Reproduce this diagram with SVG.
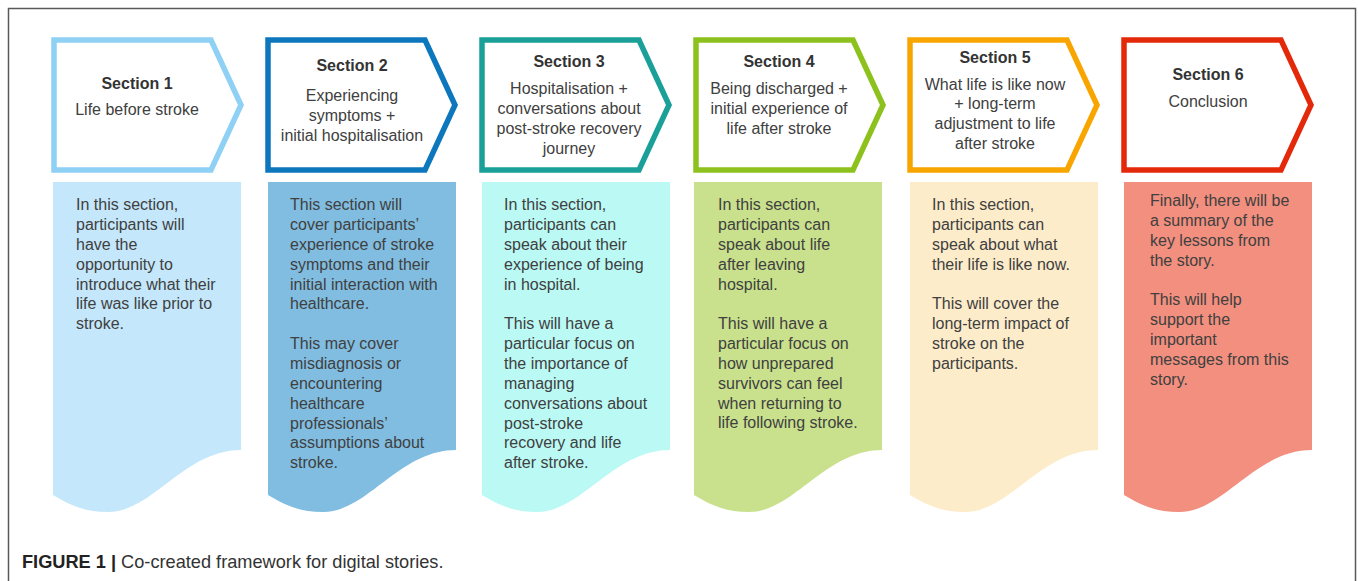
<svg xmlns="http://www.w3.org/2000/svg" width="1358" height="581" viewBox="0 0 1358 581">
<defs>
<style>
.hd{fill:#fff;stroke-width:5.5;stroke-linejoin:miter}
.t{font-family:"Liberation Sans",Arial,sans-serif;font-size:16px;fill:#404040}
.h{font-family:"Liberation Sans",Arial,sans-serif;font-size:16px;fill:#404040;text-anchor:middle}
.b{font-weight:bold;fill:#333}
.cap{font-family:"Liberation Sans",Arial,sans-serif;font-size:18.2px;fill:#333}
</style>
<path id="arrow" d="M3 40 H160 L190 105 L160 170 H3 Z"/>
<path id="body" d="M0 0 H188 V268 C131 268 100 330 55 330 C30 330 15 322 0 313 Z"/>
</defs>
<rect x="0" y="0" width="1358" height="581" fill="#fff"/>
<rect x="8.5" y="8.5" width="1347" height="600" fill="none" stroke="#595959" stroke-width="1.5"/>
<g id="connectors"></g>

<g id="section1">
<use href="#arrow" x="51" class="hd" stroke="#8ed1f5"/>
<use href="#body" x="53" y="182" fill="#c4e7fb"/>
<text class="h" x="137"><tspan class="b" x="137" y="89">Section 1</tspan><tspan x="137" y="115">Life before stroke</tspan></text>
<text class="t" x="76"><tspan x="76" y="210">In this section,</tspan><tspan x="76" y="230">participants will</tspan><tspan x="76" y="250">have the</tspan><tspan x="76" y="270">opportunity to</tspan><tspan x="76" y="290">introduce what their</tspan><tspan x="76" y="309">life was like prior to</tspan><tspan x="76" y="329">stroke.</tspan></text>
</g>

<g id="section2">
<use href="#arrow" x="265" class="hd" stroke="#0c77bd"/>
<use href="#body" x="268" y="182" fill="#80bde0"/>
<text class="h"><tspan class="b" x="352" y="71">Section 2</tspan><tspan x="352" y="101">Experiencing</tspan><tspan x="352" y="121">symptoms +</tspan><tspan x="352" y="141">initial hospitalisation</tspan></text>
<text class="t"><tspan x="290" y="210">This section will</tspan><tspan x="290" y="230">cover participants’</tspan><tspan x="290" y="250">experience of stroke</tspan><tspan x="290" y="270">symptoms and their</tspan><tspan x="290" y="290">initial interaction with</tspan><tspan x="290" y="309">healthcare.</tspan><tspan x="290" y="349">This may cover</tspan><tspan x="290" y="369">misdiagnosis or</tspan><tspan x="290" y="389">encountering</tspan><tspan x="290" y="409">healthcare</tspan><tspan x="290" y="429">professionals’</tspan><tspan x="290" y="448">assumptions about</tspan><tspan x="290" y="468">stroke.</tspan></text>
</g>

<g id="section3">
<use href="#arrow" x="479" class="hd" stroke="#1aa098"/>
<use href="#body" x="482" y="182" fill="#bbf9f4"/>
<text class="h"><tspan class="b" x="569" y="67">Section 3</tspan><tspan x="569" y="94">Hospitalisation +</tspan><tspan x="569" y="114">conversations about</tspan><tspan x="569" y="134">post-stroke recovery</tspan><tspan x="569" y="154">journey</tspan></text>
<text class="t"><tspan x="504" y="210">In this section,</tspan><tspan x="504" y="230">participants can</tspan><tspan x="504" y="250">speak about their</tspan><tspan x="504" y="270">experience of being</tspan><tspan x="504" y="290">in hospital.</tspan><tspan x="504" y="329">This will have a</tspan><tspan x="504" y="349">particular focus on</tspan><tspan x="504" y="369">the importance of</tspan><tspan x="504" y="389">managing</tspan><tspan x="504" y="409">conversations about</tspan><tspan x="504" y="429">post-stroke</tspan><tspan x="504" y="448">recovery and life</tspan><tspan x="504" y="468">after stroke.</tspan></text>
</g>

<g id="section4">
<use href="#arrow" x="693" class="hd" stroke="#8dc21e"/>
<use href="#body" x="694" y="182" fill="#c9e08d"/>
<text class="h"><tspan class="b" x="779" y="67">Section 4</tspan><tspan x="779" y="94">Being discharged +</tspan><tspan x="779" y="114">initial experience of</tspan><tspan x="779" y="134">life after stroke</tspan></text>
<text class="t"><tspan x="718" y="210">In this section,</tspan><tspan x="718" y="230">participants can</tspan><tspan x="718" y="250">speak about life</tspan><tspan x="718" y="270">after leaving</tspan><tspan x="718" y="290">hospital.</tspan><tspan x="718" y="329">This will have a</tspan><tspan x="718" y="349">particular focus on</tspan><tspan x="718" y="369">how unprepared</tspan><tspan x="718" y="389">survivors can feel</tspan><tspan x="718" y="409">when returning to</tspan><tspan x="718" y="428">life following stroke.</tspan></text>
</g>

<g id="section5">
<use href="#arrow" x="907" class="hd" stroke="#f9a500"/>
<use href="#body" x="910" y="182" fill="#fdecca"/>
<text class="h"><tspan class="b" x="995" y="63">Section 5</tspan><tspan x="995" y="90">What life is like now</tspan><tspan x="995" y="109">+ long-term</tspan><tspan x="995" y="129">adjustment to life</tspan><tspan x="995" y="149">after stroke</tspan></text>
<text class="t"><tspan x="932" y="210">In this section,</tspan><tspan x="932" y="230">participants can</tspan><tspan x="932" y="250">speak about what</tspan><tspan x="932" y="270">their life is like now.</tspan><tspan x="932" y="309">This will cover the</tspan><tspan x="932" y="329">long-term impact of</tspan><tspan x="932" y="349">stroke on the</tspan><tspan x="932" y="369">participants.</tspan></text>
</g>

<g id="section6">
<use href="#arrow" x="1121" class="hd" stroke="#e3290a"/>
<use href="#body" x="1124" y="182" fill="#f28f7e"/>
<text class="h"><tspan class="b" x="1208" y="80">Section 6</tspan><tspan x="1208" y="107">Conclusion</tspan></text>
<text class="t"><tspan x="1150" y="206">Finally, there will be</tspan><tspan x="1150" y="226">a summary of the</tspan><tspan x="1150" y="246">key lessons from</tspan><tspan x="1150" y="266">the story.</tspan><tspan x="1150" y="305">This will help</tspan><tspan x="1150" y="325">support the</tspan><tspan x="1150" y="345">important</tspan><tspan x="1150" y="365">messages from this</tspan><tspan x="1150" y="385">story.</tspan></text>
</g>

<text class="cap" x="22" y="568"><tspan font-weight="bold" fill="#222">FIGURE 1 | </tspan><tspan>Co-created framework for digital stories.</tspan></text>
</svg>
